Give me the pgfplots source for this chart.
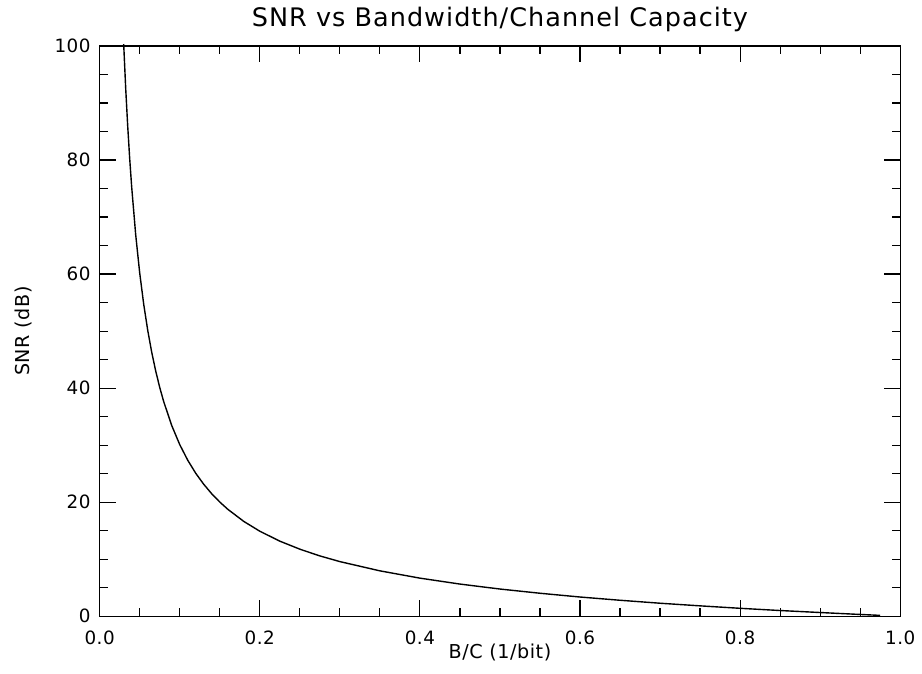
\documentclass[border=0pt]{standalone}
\usepackage{fontspec}
\setmainfont{DejaVu Sans}
\usepackage{pgfplots}
\pgfplotsset{compat=1.18}

% SNR needed (dB) against B/C
\pgfplotstableread{
x      snr
0.030  100.34
0.0325 92.62
0.035  86.01
0.0375 80.27
0.040  75.26
0.045  66.90
0.050  60.21
0.055  54.73
0.060  50.17
0.065  46.31
0.070  43.00
0.075  40.14
0.080  37.63
0.090  33.45
0.100  30.10
0.110  27.36
0.120  25.07
0.130  23.14
0.140  21.47
0.150  20.03
0.160  18.76
0.180  16.63
0.200  14.91
0.225  13.17
0.250  11.76
0.275  10.58
0.300  9.58
0.350  7.96
0.400  6.68
0.450  5.64
0.500  4.77
0.550  4.03
0.600  3.37
0.650  2.80
0.700  2.28
0.750  1.82
0.800  1.39
0.850  1.00
0.900  0.65
0.950  0.31
0.975  0.15
}\snrdata

\begin{document}
\begin{tikzpicture}
\begin{axis}[
  scale only axis,
  width=401.5pt, height=286pt,
  xmin=0, xmax=1, ymin=0, ymax=100,
  xtick={0,0.2,0.4,0.6,0.8,1.0},
  ytick={0,20,40,60,80,100},
  minor x tick num=3, minor y tick num=3,
  tick align=inside,
  major tick length=8pt, minor tick length=4pt,
  axis line style={line width=0.6pt},
  every tick/.style={black, line width=0.6pt},
  tick label style={font=\fontsize{9.2}{10}\selectfont\addfontfeature{LetterSpace=3}},
  /pgf/number format/assume math mode=true,
  xticklabel style={/pgf/number format/fixed, /pgf/number format/fixed zerofill,
    /pgf/number format/precision=1, yshift=-4pt},
  yticklabel style={xshift=-1pt},
  title={SNR vs Bandwidth/Channel Capacity},
  title style={at={(axis description cs:0.5,1)}, anchor=base, yshift=4pt,
    font=\fontsize{12.8}{14}\selectfont\addfontfeature{LetterSpace=4}},
  xlabel={B/C (1/bit)},
  xlabel style={at={(axis description cs:0.5,0)}, anchor=base, yshift=-21pt,
    font=\fontsize{9.6}{11}\selectfont\addfontfeature{LetterSpace=3}},
  ylabel={SNR (dB)},
  ylabel style={at={(axis description cs:0,0.5)}, anchor=center, yshift=38pt,
    font=\fontsize{9.6}{11}\selectfont\addfontfeature{LetterSpace=3}},
  clip=false,
]
\addplot[black, line width=0.7pt, mark=none] table[x=x, y=snr] {\snrdata};
\path (rel axis cs:-0.1245,-0.0997) rectangle (rel axis cs:1.0237,1.0752);
\end{axis}
\end{tikzpicture}
\end{document}
